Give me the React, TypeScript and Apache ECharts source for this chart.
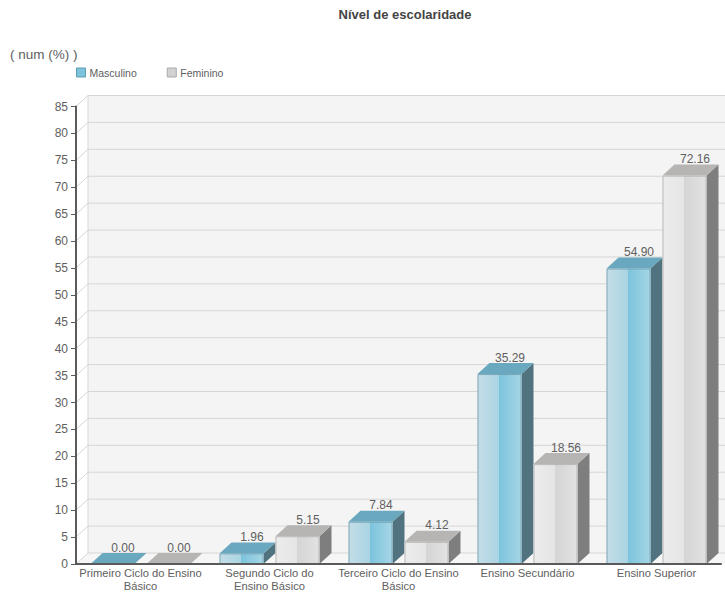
import React, { useEffect, useRef } from "react";
import * as echarts from "echarts";

const categories = [
  "Primeiro Ciclo do Ensino\nBásico",
  "Segundo Ciclo do\nEnsino Básico",
  "Terceiro Ciclo do Ensino\nBásico",
  "Ensino Secundário",
  "Ensino Superior",
];
const masculino = [0.0, 1.96, 7.84, 35.29, 54.9];
const feminino = [0.0, 5.15, 4.12, 18.56, 72.16];
const yTicks = [0, 5, 10, 15, 20, 25, 30, 35, 40, 45, 50, 55, 60, 65, 70, 75, 80, 85];

const FONT = "'Liberation Sans', Arial, sans-serif";
const TEXT = "#606060";
const DX = 12;
const DY = 11;
const BAR_W = 44;
const BAR_GAP = 12;

type Palette = { stops: [number, string][]; side: string; top: string; edge: string };
const blue: Palette = {
  stops: [
    [0, "#c4dde7"],
    [0.49, "#aad4e3"],
    [0.5, "#7cc4dc"],
    [1, "#a6d6e6"],
  ],
  side: "#50737f",
  top: "#6aa8bf",
  edge: "#6d98a6",
};
const grey: Palette = {
  stops: [
    [0, "#ececec"],
    [0.49, "#e5e5e5"],
    [0.5, "#d5d5d5"],
    [1, "#e2e2e2"],
  ],
  side: "#7e7e7e",
  top: "#b7b5b3",
  edge: "#a9a9a9",
};

// Draws one 3D column: front face, side face, top face and its value label.
function barRenderer(slot: number, pal: Palette) {
  return (_params: any, api: any) => {
    const cat = api.value(0);
    const val = api.value(1);
    const [cx, y] = api.coord([cat, val]);
    const [, y0] = api.coord([cat, 0]);
    const bandW = api.size([1, 0])[0];
    const left = cx - bandW / 2 + 14.5 + slot * (BAR_W + BAR_GAP);
    const right = left + BAR_W;
    const h = y0 - y;
    const children: any[] = [];
    if (h > 0) {
      children.push(
        {
          type: "polygon",
          shape: { points: [[right, y], [right + DX, y - DY], [right + DX, y0 - DY], [right, y0]] },
          style: { fill: pal.side },
        },
        {
          type: "rect",
          shape: { x: left, y, width: BAR_W, height: h },
          style: {
            fill: {
              type: "linear", x: 0, y: 0, x2: 1, y2: 0,
              colorStops: pal.stops.map(([offset, color]) => ({ offset, color })),
            },
          },
        },
        {
          type: "rect",
          shape: { x: left + 0.5, y: y + 0.5, width: BAR_W - 1, height: h - 1 },
          style: { fill: "none", stroke: pal.edge, lineWidth: 1, opacity: 0.75 },
        }
      );
    }
    children.push({
      type: "polygon",
      shape: { points: [[left, y], [left + DX, y - DY], [right + DX, y - DY], [right, y]] },
      style: { fill: pal.top },
    });
    children.push({
      type: "text",
      style: {
        x: (left + right + DX) / 2 + 4.5,
        y: y - DY + 0.5,
        text: val.toFixed(2),
        fill: TEXT,
        font: `12px ${FONT}`,
        align: "center",
        verticalAlign: "bottom",
      },
    });
    return { type: "group", children };
  };
}

// Back wall of the 3D box: fill, then a floor and a gridline for every tick.
function wallRenderer(params: any, api: any) {
  const sys = params.coordSys;
  const v = api.value(0);
  const [, y] = api.coord([0, v]);
  const xL = sys.x;
  const xR = 725;
  const children: any[] = [];
  if (params.dataIndex === 0) {
    const [, yTop] = api.coord([0, yTicks[yTicks.length - 1]]);
    children.push({
      type: "rect",
      shape: { x: xL + DX, y: yTop - DY, width: xR - xL - DX, height: y - yTop },
      style: { fill: "#f4f4f4" },
    });
    children.push({
      type: "polygon",
      shape: { points: [[xL, y], [xL + DX, y - DY], [xR, y - DY], [xR, y]] },
      style: { fill: "#f6f6f6" },
    });
  }
  children.push({
    type: "polyline",
    shape: { points: [[xL, y], [xL + DX, y - DY], [xR, y - DY]] },
    style: { fill: "none", stroke: "#d6d6d6", lineWidth: 1 },
  });
  if (params.dataIndex === 0) {
    const [, yTop] = api.coord([0, yTicks[yTicks.length - 1]]);
    children.push({
      type: "line",
      shape: { x1: xL + DX, y1: y - DY, x2: xL + DX, y2: yTop - DY },
      style: { stroke: "#d6d6d6", lineWidth: 1 },
    });
  }
  return { type: "group", children };
}

export default function App() {
  const ref = useRef<HTMLDivElement>(null);
  useEffect(() => {
    const chart = echarts.init(ref.current!, undefined, { renderer: "svg" });
    chart.setOption({
      animation: false,
      backgroundColor: "#ffffff",
      title: [
        {
          text: "Nível de escolaridade",
          left: 400,
          top: 3,
          textAlign: "center",
          textStyle: { fontFamily: FONT, fontSize: 13, fontWeight: "bold", color: "#444444" },
        },
        {
          text: "( num (%) )",
          left: 5,
          top: 42,
          textStyle: { fontFamily: FONT, fontSize: 13.5, fontWeight: "normal", color: TEXT },
        },
      ],
      legend: {
        left: 71,
        top: 62,
        itemWidth: 9,
        itemHeight: 9,
        itemGap: 30,
        data: [
          { name: "Masculino", icon: "rect", itemStyle: { color: "#7cc4dc", borderColor: "#5f9db3", borderWidth: 1 } },
          { name: "Feminino", icon: "rect", itemStyle: { color: "#d2d2d2", borderColor: "#aaaaaa", borderWidth: 1 } },
        ],
        textStyle: { fontFamily: FONT, fontSize: 10.5, color: TEXT, padding: [0, 0, 0, -1] },
      },
      grid: { left: 76, top: 106.5, width: 645, height: 457.5 },
      xAxis: {
        type: "category",
        data: categories,
        z: 5,
        axisLine: { lineStyle: { color: "#5a5a5a", width: 2 } },
        axisTick: { length: 5, lineStyle: { color: "#5a5a5a", width: 1 } },
        axisLabel: { interval: 0, margin: 3, fontFamily: FONT, fontSize: 11.2, lineHeight: 12.5, color: TEXT },
      },
      yAxis: {
        type: "value",
        min: 0,
        max: 85,
        interval: 5,
        z: 5,
        splitLine: { show: false },
        axisLine: { show: true, lineStyle: { color: "#5a5a5a", width: 2 } },
        axisTick: { show: true, length: 5, lineStyle: { color: "#5a5a5a", width: 1 } },
        axisLabel: { margin: 8, fontFamily: FONT, fontSize: 12, color: TEXT },
      },
      series: [
        {
          type: "custom",
          name: "wall",
          silent: true,
          z: 1,
          renderItem: wallRenderer,
          data: yTicks.map((t) => [t]),
          encode: { y: 0 },
        },
        {
          type: "custom",
          name: "Masculino",
          z: 2,
          itemStyle: { color: "#7cc4dc" },
          renderItem: barRenderer(0, blue),
          data: masculino.map((v, i) => [i, v]),
          encode: { x: 0, y: 1 },
        },
        {
          type: "custom",
          name: "Feminino",
          z: 3,
          itemStyle: { color: "#d2d2d2" },
          renderItem: barRenderer(1, grey),
          data: feminino.map((v, i) => [i, v]),
          encode: { x: 0, y: 1 },
        },
      ],
    });
    return () => chart.dispose();
  }, []);
  return <div ref={ref} style={{ position: "absolute", left: 0, top: 0, width: 725, height: 595 }} />;
}
